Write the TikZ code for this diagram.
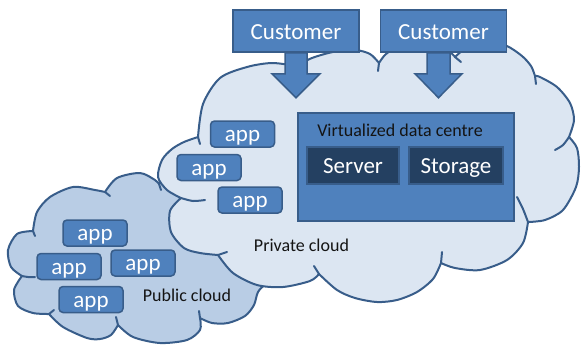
\documentclass[tikz,border=0pt]{standalone}
\usepackage{fontspec}
\setmainfont{Carlito}
\usetikzlibrary{shapes,arrows}

\definecolor{appblue}{HTML}{4F81BD}
\definecolor{lineblue}{HTML}{385D8A}
\definecolor{darkblue}{HTML}{244061}
\definecolor{privfill}{HTML}{DCE6F2}
\definecolor{pubfill}{HTML}{B9CDE5}

\begin{document}
\begin{tikzpicture}[x=1pt,y=-1pt,
    cloud line/.style={draw=lineblue,line width=2pt,line join=round,line cap=round},
    every node/.style={inner sep=0pt},
    bluebox/.style={rectangle,draw=lineblue,fill=appblue,line width=1.5pt,text=white,
                    font=\fontsize{23}{27}\selectfont,text height=15pt,text depth=0pt},
    app/.style={bluebox,rounded corners=4pt,minimum width=64pt,minimum height=26pt},
    custbox/.style={bluebox,minimum width=126pt,minimum height=42pt,text height=17pt},
    srvbox/.style={bluebox,fill=darkblue,minimum height=37pt},
    dcbox/.style={rectangle,draw=lineblue,fill=appblue,line width=1.5pt,
                  minimum width=216pt,minimum height=108pt},
    cloudtext/.style={font=\fontsize{18}{22}\selectfont,text=black!92,anchor=base},
    bigarrow/.style={draw=lineblue,fill=appblue,line width=1.5pt,line join=miter}]
  \useasboundingbox (0,0) rectangle (581,346);

  % public cloud
  \filldraw[cloud line,fill=pubfill]
    plot[smooth] coordinates {(33,231) (37,212) (50,197) (73,187) (95,190) (105,192)}
    -- plot[smooth] coordinates {(105,192) (117,178) (140,173) (155,180) (159,184)}
    -- plot[smooth] coordinates {(159,184) (165,177) (180,172) (230,195) (268,250) (275,272)}
    -- plot[smooth] coordinates {(275,272) (266,283) (258,292) (254,305) (245,316) (228,323) (212,323) (200,318)}
    -- plot[smooth] coordinates {(200,318) (200,330) (187,340) (160,343) (133,337) (118,325)}
    -- plot[smooth] coordinates {(118,325) (111,335) (100,339) (87,338) (63,327) (49,314)}
    -- plot[smooth] coordinates {(49,314) (33,313) (18,306) (14,290) (22,276)}
    -- plot[smooth] coordinates {(22,276) (11,267) (8,250) (17,234) (33,231)}
    -- cycle;
  \draw[cloud line] (33,231) -- (35,236);
  \draw[cloud line] (105,192) -- (110,196);
  \draw[cloud line] (159,184) -- (161,190);
  \draw[cloud line] (200,318) -- (199,311);
  \draw[cloud line] (118,325) -- (116,317);
  \draw[cloud line] (49,314) -- (54,310);
  \draw[cloud line] plot[smooth] coordinates {(22,276) (28,277) (35,277)};

  % private cloud
  \filldraw[cloud line,fill=privfill]
    plot[smooth] coordinates {(198,137) (203,104) (220,78) (247,67) (272,63) (296,66)}
    -- plot[smooth] coordinates {(296,66) (312,58) (333,52) (355,50) (370,54) (379,63)}
    -- plot[smooth] coordinates {(379,63) (386,54) (400,46) (425,43) (447,50) (455,57)}
    -- plot[smooth] coordinates {(455,57) (468,47) (490,42) (507,46) (522,56) (531,66) (535,76)}
    -- plot[smooth] coordinates {(535,76) (540,77) (557,87) (570,103) (574,120) (569,137)}
    -- plot[smooth] coordinates {(569,137) (577,148) (579,167) (576,187) (563,210) (545,220) (528,222)}
    -- plot[smooth] coordinates {(528,222) (523,243) (507,260) (480,270) (455,268) (441,263)}
    -- plot[smooth] coordinates {(441,263) (433,279) (417,292) (397,300) (377,302) (355,298) (337,290) (319,274)}
    -- plot[smooth] coordinates {(319,274) (310,281) (283,287) (257,285) (233,273) (218,255)}
    -- plot[smooth] coordinates {(218,255) (200,253) (184,248) (171,232) (170,211) (181,198)}
    -- plot[smooth] coordinates {(181,198) (167,190) (158,177) (162,160) (172,149) (184,142) (198,137)}
    -- cycle;
  \draw[cloud line] (198,137) -- (200,144);
  \draw[cloud line] (379,63) -- (378,71);
  \draw[cloud line] (455,57) -- (461,62);
  \draw[cloud line] (535,76) -- (536,84);
  \draw[cloud line] plot[smooth] coordinates {(569,137) (563,145) (555,150)};
  \draw[cloud line] plot[smooth] coordinates {(528,222) (523,209) (517,197)};
  \draw[cloud line] (441,263) -- (442,252);
  \draw[cloud line] (319,274) -- (314,266);
  \draw[cloud line] (218,255) -- (227,252);
  \draw[cloud line] plot[smooth] coordinates {(181,198) (193,201) (205,200)};

  \node[app] (pa1) at (95,233)    {app};
  \node[app] (pa2) at (69,266.5)  {app};
  \node[app] (pa3) at (143,263)   {app};
  \node[app] (pa4) at (91,299.5)  {app};

  \node[app] (ka1) at (242.5,134) {app};
  \node[app] (ka2) at (209,167.5) {app};
  \node[app] (ka3) at (250,200)   {app};

  \node[dcbox] (dc) at (406,167) {};
  \node[cloudtext] (dctitle) at (400,136) {Virtualized data centre};
  \node[srvbox,minimum width=92pt] (server)  at (353,165.5) {Server};
  \node[srvbox,minimum width=94pt] (storage) at (456,165.5) {Storage};

  \node[custbox] (cust1) at (296,31)   {Customer};
  \node[custbox] (cust2) at (443.5,31) {Customer};
  \draw[bigarrow] (cust1.south) ++(-11,0) -- ++(0,21) -- ++(-13,0) -- ++(24,24)
    -- ++(24,-24) -- ++(-13,0) -- ++(0,-21) -- cycle;
  \draw[bigarrow] (cust2.south) ++(-16.5,0) -- ++(0,21) -- ++(-12,0) -- ++(23.5,24)
    -- ++(23.5,-24) -- ++(-12,0) -- ++(0,-21) -- cycle;

  \node[cloudtext] (privlabel) at (301.5,251) {Private cloud};
  \node[cloudtext] (publabel)  at (187,301)   {Public cloud};
\end{tikzpicture}
\end{document}
